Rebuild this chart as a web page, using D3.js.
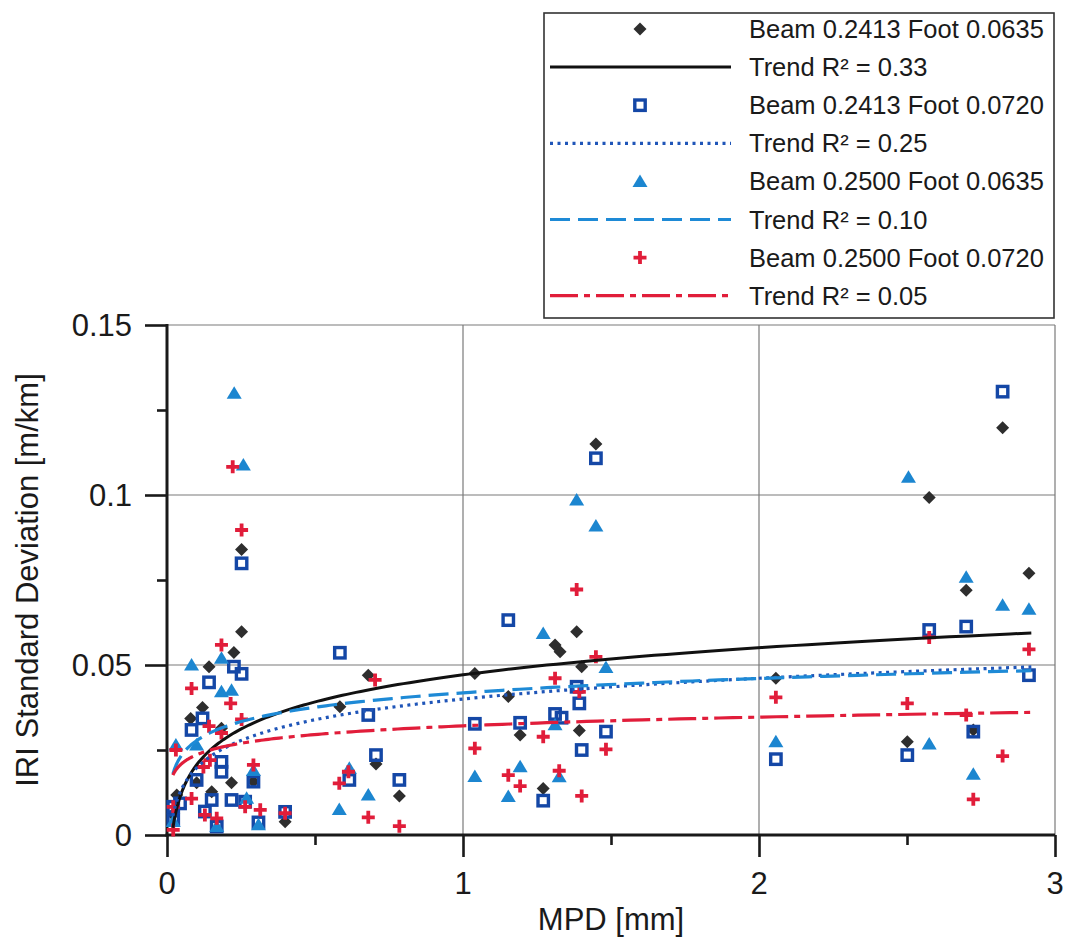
<!DOCTYPE html>
<html>
<head>
<meta charset="utf-8">
<script src="https://cdn.jsdelivr.net/npm/d3@7"></script>
<style>
  body { margin: 0; background: #fff; }
  text { font-family: "Liberation Sans", Arial, sans-serif; fill: #1a1a1a; }
</style>
</head>
<body>
<svg id="chart" width="1066" height="943"></svg>
<script>
// values (MPD in mm, IRI std dev in m/km)
const beam2413foot0635_x = [0.02, 0.033, 0.08, 0.10, 0.12, 0.142, 0.151, 0.184, 0.218, 0.226, 0.252, 0.252, 0.292, 0.399,
  0.584, 0.68, 0.706, 0.785, 1.04, 1.153, 1.193, 1.271, 1.311, 1.328, 1.384, 1.393, 1.401, 1.449,
  2.057, 2.501, 2.575, 2.70, 2.724, 2.823, 2.912]
const beam2413foot0635_y = [0.006, 0.0118, 0.0343, 0.0154, 0.0375, 0.0495, 0.0127, 0.0314, 0.0154, 0.0537, 0.084, 0.0598, 0.0157, 0.0039,
  0.0377, 0.047, 0.0209, 0.0115, 0.0475, 0.0407, 0.0294, 0.0137, 0.0559, 0.0539, 0.0598, 0.0307, 0.0495, 0.115,
  0.0461, 0.0274, 0.0993, 0.072, 0.0309, 0.1198, 0.077]

const beam2413foot0720_x = [0.021, 0.021, 0.044, 0.083, 0.10, 0.12, 0.128, 0.142, 0.151, 0.168, 0.184, 0.184, 0.218, 0.226,
  0.252, 0.252, 0.264, 0.292, 0.309, 0.399, 0.584, 0.616, 0.68, 0.706, 0.785, 1.04, 1.153, 1.193,
  1.271, 1.311, 1.333, 1.384, 1.393, 1.401, 1.449, 1.483, 2.057, 2.501, 2.575, 2.70, 2.724, 2.823, 2.912]
const beam2413foot0720_y = [0.0044, 0.0083, 0.0093, 0.0309, 0.0162, 0.0343, 0.0069, 0.0449, 0.0103, 0.0025, 0.0215, 0.0186, 0.0103, 0.0495,
  0.0474, 0.0799, 0.0098, 0.0157, 0.0037, 0.0068, 0.0536, 0.0162, 0.0353, 0.0235, 0.0162, 0.0327, 0.0632, 0.033,
  0.0101, 0.0356, 0.0345, 0.0436, 0.0387, 0.025, 0.1108, 0.0304, 0.0223, 0.0235, 0.0603, 0.0613, 0.0304, 0.1304, 0.047]

const beam2500foot0635_x = [0.021, 0.03, 0.083, 0.10, 0.168, 0.184, 0.184, 0.218, 0.227, 0.258, 0.269, 0.292, 0.309,
  0.582, 0.616, 0.68, 1.04, 1.153, 1.193, 1.271, 1.311, 1.325, 1.384, 1.449, 1.483,
  2.057, 2.505, 2.575, 2.70, 2.724, 2.823, 2.912]
const beam2500foot0635_y = [0.004, 0.0265, 0.050, 0.0265, 0.0025, 0.052, 0.0421, 0.0426, 0.1299, 0.1088, 0.0108, 0.019, 0.003,
  0.0075, 0.0196, 0.0118, 0.0172, 0.0113, 0.0201, 0.0593, 0.0324, 0.0171, 0.0985, 0.0909, 0.0493,
  0.0274, 0.1052, 0.0268, 0.0758, 0.0179, 0.0676, 0.0664]

const beam2500foot0720_x = [0.021, 0.021, 0.03, 0.083, 0.083, 0.123, 0.128, 0.142, 0.145, 0.168, 0.184, 0.184, 0.215, 0.222,
  0.252, 0.252, 0.264, 0.292, 0.315, 0.399, 0.582, 0.613, 0.68, 0.703, 0.785, 1.04, 1.153, 1.193,
  1.271, 1.311, 1.325, 1.384, 1.393, 1.401, 1.449, 1.483, 2.057, 2.501, 2.575, 2.70, 2.724, 2.823, 2.912]
const beam2500foot0720_y = [0.0015, 0.0083, 0.025, 0.0431, 0.0107, 0.020, 0.0059, 0.032, 0.022, 0.0049, 0.0559, 0.030, 0.0387, 0.1083,
  0.0897, 0.034, 0.0083, 0.0206, 0.0074, 0.0064, 0.0152, 0.0186, 0.0052, 0.0456, 0.0026, 0.0255, 0.0176, 0.0144,
  0.0289, 0.0461, 0.0189, 0.0722, 0.0421, 0.0115, 0.0524, 0.0252, 0.0405, 0.0387, 0.0581, 0.0353, 0.0105, 0.0232, 0.0546]

// logarithmic trend lines y = a*ln(x) + b, coefficients
const trendSlopes = [0.0115, 0.0088, 0.0061, 0.0037]
const trendIntercepts = [0.0471, 0.0400, 0.0418, 0.0321]
const trendRange = [0.02, 2.92]
const trendLabels = ["Trend R² = 0.33", "Trend R² = 0.25", "Trend R² = 0.10", "Trend R² = 0.05"]
const seriesLabels = ["Beam 0.2413 Foot 0.0635", "Beam 0.2413 Foot 0.0720", "Beam 0.2500 Foot 0.0635", "Beam 0.2500 Foot 0.0720"]

const xTicks = [0, 1, 2, 3]
const xMinorTicks = [0.5, 1.5, 2.5]
const yTicks = [0, 0.05, 0.1, 0.15]
const yMinorTicks = [0.025, 0.075, 0.125]

const svg = d3.select("#chart")
const x = d3.scaleLinear().domain([0, 3]).range([167, 1055])
const y = d3.scaleLinear().domain([0, 0.15]).range([835, 325])

const styles = [
  {marker: "diamond", color: "#2e2e2e", line: "#111", dash: null},
  {marker: "square", color: "#1447a6", line: "#1f55b8", dash: "3,4.5"},
  {marker: "triangle", color: "#1c86d0", line: "#1e8ad6", dash: "20,8"},
  {marker: "cross", color: "#e11d3a", line: "#e11d3a", dash: "28,6,6,6"}
]

function addText(parent, px, py, str, size, anchor){
  return parent.append("text")
    .attr("x", px).attr("y", py)
    .attr("text-anchor", anchor)
    .style("font-size", size + "px")
    .text(str)
}

function drawMarker(g, kind, color, cx, cy){
  if(kind === "diamond"){
    g.append("path").attr("d", `M${cx},${cy-6.5}L${cx+6.5},${cy}L${cx},${cy+6.5}L${cx-6.5},${cy}Z`)
      .attr("fill", color)
  } else if(kind === "square"){
    g.append("rect").attr("x", cx-5.2).attr("y", cy-5.2).attr("width", 10.4).attr("height", 10.4)
      .attr("fill", "none").attr("stroke", color).attr("stroke-width", 3.4)
  } else if(kind === "triangle"){
    g.append("path").attr("d", `M${cx},${cy-7}L${cx+7.5},${cy+5.5}L${cx-7.5},${cy+5.5}Z`)
      .attr("fill", color)
  } else {
    g.append("path").attr("d", `M${cx-6.5},${cy}H${cx+6.5}M${cx},${cy-6.5}V${cy+6.5}`)
      .attr("stroke", color).attr("stroke-width", 3.8).attr("fill", "none")
  }
}

// grid
const grid = svg.append("g").attr("stroke", "#7a7a7a").attr("stroke-width", 1.2)
yTicks.filter(d => d > 0).forEach(d => {
  grid.append("line").attr("x1", x(0)).attr("x2", x(3)).attr("y1", y(d)).attr("y2", y(d))
})
xTicks.filter(d => d > 0).forEach(d => {
  grid.append("line").attr("x1", x(d)).attr("x2", x(d)).attr("y1", y(0)).attr("y2", y(0.15))
})

// axes with outward ticks
const yAxis = svg.append("g").attr("transform", `translate(${x(0)},0)`)
  .call(d3.axisLeft(y).tickValues(yTicks).tickSize(22).tickFormat(""))
yAxis.append("g").call(d3.axisLeft(y).tickValues(yMinorTicks).tickSize(10).tickFormat(""))
const xAxis = svg.append("g").attr("transform", `translate(0,${y(0)})`)
  .call(d3.axisBottom(x).tickValues(xTicks).tickSize(22).tickFormat(""))
xAxis.append("g").call(d3.axisBottom(x).tickValues(xMinorTicks).tickSize(10).tickFormat(""))
svg.selectAll(".domain").remove()
svg.selectAll(".tick line").attr("stroke", "#1a1a1a").attr("stroke-width", 2.6)
svg.append("line").attr("x1", x(0)).attr("x2", x(0)).attr("y1", y(0.15) - 1).attr("y2", y(0) + 1.5)
  .attr("stroke", "#1a1a1a").attr("stroke-width", 3)
svg.append("line").attr("x1", x(0) - 1.5).attr("x2", x(3)).attr("y1", y(0)).attr("y2", y(0))
  .attr("stroke", "#1a1a1a").attr("stroke-width", 3)

yTicks.forEach(d => addText(svg, 132, y(d) + 11, d3.format("~g")(d), 31, "end"))
xTicks.forEach(d => addText(svg, x(d), 894, String(d), 31, "middle"))
addText(svg, (x(0) + x(3)) / 2, 930, "MPD [mm]", 31, "middle")
svg.append("text")
  .attr("transform", `translate(38,${(y(0) + y(0.15)) / 2}) rotate(-90)`)
  .attr("text-anchor", "middle").style("font-size", "31px")
  .text("IRI Standard Deviation [m/km]")

// points
const seriesX = [beam2413foot0635_x, beam2413foot0720_x, beam2500foot0635_x, beam2500foot0720_x]
const seriesY = [beam2413foot0635_y, beam2413foot0720_y, beam2500foot0635_y, beam2500foot0720_y]
const points = svg.append("g")
seriesX.forEach((xs, i) => {
  const g = points.append("g")
  xs.forEach((v, j) => drawMarker(g, styles[i].marker, styles[i].color, x(v), y(seriesY[i][j])))
})

// trend lines
const trends = svg.append("g").attr("fill", "none")
trendSlopes.forEach((a, i) => {
  const b = trendIntercepts[i]
  const xs = d3.range(0, 201).map(k => trendRange[0] * Math.pow(trendRange[1] / trendRange[0], k / 200))
  const line = d3.line().x(d => x(d)).y(d => y(a * Math.log(d) + b))
  trends.append("path").attr("d", line(xs))
    .attr("stroke", styles[i].line).attr("stroke-width", i === 0 ? 3 : 3.2)
    .attr("stroke-dasharray", styles[i].dash)
})

// legend
const legend = svg.append("g")
legend.append("rect").attr("x", 544).attr("y", 13).attr("width", 510).attr("height", 305)
  .attr("fill", "#fff").attr("stroke", "#333").attr("stroke-width", 1.6)
const rowY = d3.range(8).map(k => 29 + k * 38.1)
styles.forEach((s, i) => {
  drawMarker(legend, s.marker, s.color, 640, rowY[2*i])
  addText(legend, 749, rowY[2*i] + 9, seriesLabels[i], 25.5, "start")
  legend.append("line").attr("x1", 550).attr("x2", 731).attr("y1", rowY[2*i+1]).attr("y2", rowY[2*i+1])
    .attr("stroke", s.line).attr("stroke-width", i === 0 ? 3 : 3.2).attr("stroke-dasharray", s.dash)
  addText(legend, 749, rowY[2*i+1] + 9, trendLabels[i], 25.5, "start")
})
</script>
</body>
</html>
